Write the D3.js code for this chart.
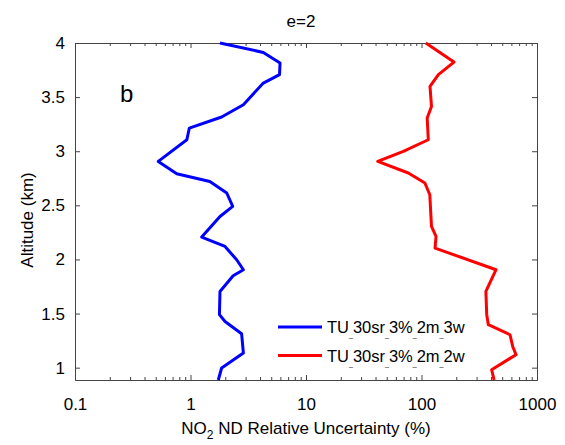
<!DOCTYPE html>
<html>
<head>
<meta charset="utf-8">
<script src="https://cdn.jsdelivr.net/npm/d3@7"></script>
<style>
  body { margin: 0; background: #fff; }
  text { font-family: "Liberation Sans", Arial, sans-serif; fill: #000; }
</style>
</head>
<body>
<div id="chart"></div>
<script>
// Data
const blueAlt = [4.0, 3.913, 3.815, 3.707, 3.63, 3.43, 3.316, 3.214, 3.106, 2.906, 2.792, 2.721, 2.614, 2.49, 2.397, 2.207, 2.12, 1.997, 1.905, 1.849, 1.704, 1.49, 1.427, 1.314, 1.135, 0.997, 0.886];
const blueVal = [1.80, 4.27, 5.96, 5.9, 4.27, 2.87, 1.86, 0.977, 0.93, 0.526, 0.76, 1.47, 2.06, 2.32, 1.80, 1.25, 1.99, 2.51, 2.87, 2.34, 1.80, 1.78, 1.99, 2.77, 2.87, 1.86, 1.74];
const redAlt = [4.0, 3.824, 3.707, 3.599, 3.414, 3.307, 3.106, 2.998, 2.906, 2.799, 2.706, 2.598, 2.305, 2.213, 2.105, 1.905, 1.704, 1.49, 1.397, 1.304, 1.196, 1.12, 0.981, 0.886];
const redVal = [109, 191, 140, 118.5, 122, 112, 114.5, 69.6, 41.8, 76.9, 107, 118, 122, 133.6, 131, 442, 361, 367, 379, 584, 616, 658, 405, 425];
const seriesNames = ["TU_30sr_3%_2m_3w", "TU_30sr_3%_2m_2w"];
const seriesColors = ["#0000ff", "#ff0000"];
const xTicks = [0.1, 1, 10, 100, 1000];
const yTicks = [1, 1.5, 2, 2.5, 3, 3.5, 4];

const W = 565, H = 445;
const margin = { top: 43, right: 28, bottom: 65, left: 75 };
const width = W - margin.left - margin.right;
const height = H - margin.top - margin.bottom;

const svg = d3.select("#chart").append("svg")
  .attr("width", W)
  .attr("height", H);

const g = svg.append("g").attr("transform", `translate(${margin.left},${margin.top})`);

const x = d3.scaleLog().domain([0.1, 1000]).range([0, width]);
const y = d3.scaleLinear().domain([0.886, 4]).range([height, 0]);

const minor = x.ticks().filter((d) => !xTicks.includes(d));
const fmt = (d) => (d < 1 ? "0.1" : String(d));

// axes: ticks inward, mirrored on top/right
g.append("g").attr("class", "ax")
  .attr("transform", `translate(0,${height})`)
  .call(d3.axisBottom(x).tickValues(xTicks).tickFormat(fmt).tickSizeInner(-5).tickSizeOuter(0).tickPadding(18));
g.append("g").attr("class", "ax minor")
  .attr("transform", `translate(0,${height})`)
  .call(d3.axisBottom(x).tickValues(minor).tickFormat("").tickSizeInner(-3).tickSizeOuter(0));
g.append("g").attr("class", "ax")
  .call(d3.axisTop(x).tickValues(xTicks).tickFormat("").tickSizeInner(-5).tickSizeOuter(0));
g.append("g").attr("class", "ax minor")
  .call(d3.axisTop(x).tickValues(minor).tickFormat("").tickSizeInner(-3).tickSizeOuter(0));
g.append("g").attr("class", "ax")
  .call(d3.axisLeft(y).tickValues(yTicks).tickFormat(d3.format("")).tickSizeInner(-5).tickSizeOuter(0).tickPadding(10));
g.append("g").attr("class", "ax")
  .attr("transform", `translate(${width},0)`)
  .call(d3.axisRight(y).tickValues(yTicks).tickFormat("").tickSizeInner(-5).tickSizeOuter(0));

g.selectAll(".ax path").attr("stroke", "#444").attr("stroke-width", 1);
g.selectAll(".ax line").attr("stroke", "#444");
g.selectAll(".ax text").attr("font-size", "17px").attr("fill", "#000");

// lines
const line = d3.line().x((d) => x(d[0])).y((d) => y(d[1]));
const series = [
  d3.zip(blueVal, blueAlt),
  d3.zip(redVal, redAlt)
];
g.selectAll(".series")
  .data(series)
  .join("path")
  .attr("class", "series")
  .attr("fill", "none")
  .attr("stroke", (d, i) => seriesColors[i])
  .attr("stroke-width", 3)
  .attr("stroke-linejoin", "round")
  .attr("d", line);

// legend
const leg = g.append("g").attr("transform", `translate(${278 - margin.left},${327 - margin.top})`);
seriesNames.forEach((name, i) => {
  const row = leg.append("g").attr("transform", `translate(0,${i * 28.5})`);
  row.append("line")
    .attr("x1", 0).attr("x2", 44)
    .attr("stroke", seriesColors[i]).attr("stroke-width", 3);
  const t = row.append("text").attr("x", 49).attr("y", 6).attr("font-size", "16.5px");
  name.split("_").forEach((part, j) => {
    if (j > 0) {
      t.append("tspan").attr("font-size", "7px").attr("dy", 4).text("_");
      t.append("tspan").attr("dy", -4).text(part);
    } else {
      t.append("tspan").text(part);
    }
  });
});

// title and labels
svg.append("text")
  .attr("x", 301).attr("y", 27)
  .attr("text-anchor", "middle").attr("font-size", "17px")
  .text("e=2");

g.append("text")
  .attr("x", 120 - margin.left).attr("y", 102 - margin.top)
  .attr("font-size", "24px")
  .text("b");

svg.append("text")
  .attr("transform", "translate(33,220) rotate(-90)")
  .attr("text-anchor", "middle").attr("font-size", "17px")
  .text("Altitude (km)");

const xl = svg.append("text")
  .attr("x", 306).attr("y", 434)
  .attr("text-anchor", "middle").attr("font-size", "17px");
xl.append("tspan").text("NO");
xl.append("tspan").attr("font-size", "12px").attr("dy", 5).text("2");
xl.append("tspan").attr("dy", -5).text(" ND Relative Uncertainty (%)");
</script>
</body>
</html>
